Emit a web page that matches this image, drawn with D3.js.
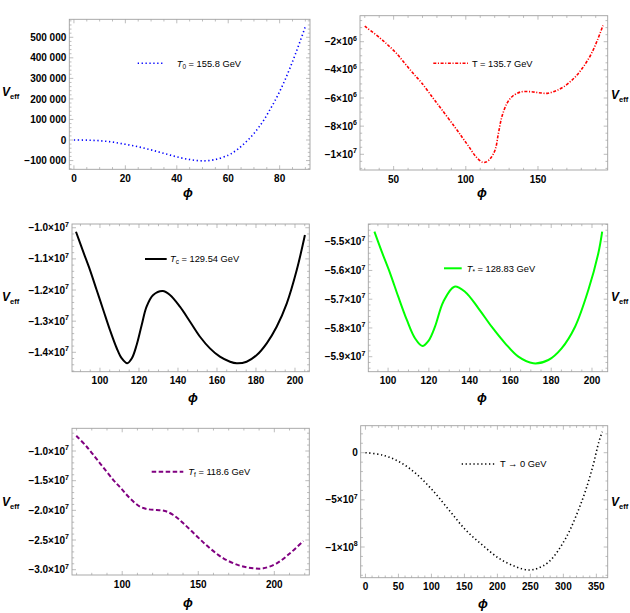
<!DOCTYPE html>
<html>
<head>
<meta charset="utf-8">
<script src="https://cdn.jsdelivr.net/npm/d3@7"></script>
<style>
  body { margin: 0; background: #fff; }
  text { font-family: "Liberation Sans", Arial, sans-serif; fill: #000; }
</style>
</head>
<body>
<svg width="630" height="613"></svg>
<script>
// ---- data: phi (GeV) and V_eff for each temperature ----
const t0Phi = [0, 5, 10, 15, 20, 25, 30, 35, 40, 45, 50, 55, 60, 62, 64, 66, 68, 70, 72, 74, 76, 78, 80, 82, 84, 86, 88, 90];
const t0V = [0, -700, -3500, -10000, -21000, -33000, -48000, -65000, -82000, -95000, -101500, -95000, -74000, -60000, -42000, -20000, 4000, 32000, 64000, 100000, 143000, 187000, 236000, 290000, 350000, 414000, 482000, 552000];

const tPhi = [30, 40.3, 46, 51.9, 57.7, 63.5, 69.3, 77.4, 83.2, 92.5, 97.2, 101.8, 107, 111.5, 114, 117, 120.3, 122.6, 125, 128.5, 132, 137.7, 144.7, 150.5, 156.3, 162.1, 167.9, 174.9, 180.7, 186.5, 191.2, 195];
const tV = [-0.9e6, -1.716e6, -2.234e6, -2.824e6, -3.535e6, -4.245e6, -4.913e6, -6.021e6, -6.803e6, -8.082e6, -8.75e6, -9.41e6, -10.17e6, -10.56e6, -10.55e6, -10.3e6, -9.69e6, -8.51e6, -7.33e6, -6.38e6, -5.91e6, -5.58e6, -5.55e6, -5.62e6, -5.67e6, -5.5e6, -5.2e6, -4.6e6, -3.89e6, -2.945e6, -1.88e6, -0.85e6];

const tcPhi = [87.7, 91.4, 94.9, 98.3, 101.7, 105.1, 108.6, 111.1, 114, 116.3, 118.8, 121.4, 123.9, 127.3, 132.2, 135.9, 141, 146.2, 151.3, 156.4, 161.5, 166.7, 170.1, 175.2, 180.4, 185.5, 190.6, 195.8, 200.9, 205.1];
const tcV = [-1.0128e7, -1.077e7, -1.136e7, -1.2e7, -1.264e7, -1.328e7, -1.387e7, -1.419e7, -1.4353e7, -1.42e7, -1.3766e7, -1.3124e7, -1.2536e7, -1.216e7, -1.2032e7, -1.216e7, -1.2536e7, -1.3017e7, -1.35e7, -1.3873e7, -1.4141e7, -1.4302e7, -1.4353e7, -1.4302e7, -1.4087e7, -1.3711e7, -1.3178e7, -1.2427e7, -1.1358e7, -1.0234e7];

const tsPhi = [93.3, 96.9, 101, 105, 109.2, 113.2, 116.8, 119.8, 123, 127.1, 132.5, 137.7, 144.3, 150.8, 157.4, 163.9, 171.2, 178.6, 185.1, 191.7, 198.2, 203.1, 205];
const tsV = [-5.4652e7, -5.5348e7, -5.6099e7, -5.6913e7, -5.7723e7, -5.836e7, -5.8628e7, -5.845e7, -5.7957e7, -5.7087e7, -5.6565e7, -5.6739e7, -5.7317e7, -5.7957e7, -5.8534e7, -5.9e7, -5.923e7, -5.9115e7, -5.8708e7, -5.7957e7, -5.668e7, -5.5403e7, -5.4652e7];

const tfPhi = [69.8, 76.7, 85.4, 94.2, 99.2, 105.1, 111.7, 117.2, 122.7, 128.1, 133.6, 140.2, 149.4, 157.7, 166.5, 177.5, 186.2, 192.8, 201.6, 210.3, 219.1];
const tfV = [-7.42e6, -9.28e6, -1.207e7, -1.489e7, -1.628e7, -1.797e7, -1.938e7, -1.982e7, -1.994e7, -2.011e7, -2.078e7, -2.218e7, -2.444e7, -2.64e7, -2.808e7, -2.933e7, -2.977e7, -2.977e7, -2.892e7, -2.724e7, -2.517e7];

const zPhi = [0, 25.6, 50.9, 76.2, 101.4, 126.7, 152, 177.2, 202.4, 227.7, 247.9, 261, 278.2, 303.5, 328.6, 343.8, 353.9, 359];
const zV = [0, -2.44e6, -9.5e6, -2.19e7, -3.96e7, -6.08e7, -8.2e7, -9.79e7, -1.12e8, -1.209e8, -1.244e8, -1.226e8, -1.156e8, -9.08e7, -5.02e7, -1.66e7, 1.17e7, 2.23e7];

// ---- tick values and labels ----
const t0XTicks = [0, 20, 40, 60, 80];
const t0YTicks = [-100000, 0, 100000, 200000, 300000, 400000, 500000];
const t0YLabels = ["−100 000", "0", "100 000", "200 000", "300 000", "400 000", "500 000"];
const tXTicks = [50, 100, 150];
const tYTicks = [-1e7, -8e6, -6e6, -4e6, -2e6];
const tYLabels = ["−1×10^7", "−8×10^6", "−6×10^6", "−4×10^6", "−2×10^6"];
const tcXTicks = [100, 120, 140, 160, 180, 200];
const tcYTicks = [-1.4e7, -1.3e7, -1.2e7, -1.1e7, -1.0e7];
const tcYLabels = ["−1.4×10^7", "−1.3×10^7", "−1.2×10^7", "−1.1×10^7", "−1.0×10^7"];
const tsXTicks = [100, 120, 140, 160, 180, 200];
const tsYTicks = [-5.9e7, -5.8e7, -5.7e7, -5.6e7, -5.5e7];
const tsYLabels = ["−5.9×10^7", "−5.8×10^7", "−5.7×10^7", "−5.6×10^7", "−5.5×10^7"];
const tfXTicks = [100, 150, 200];
const tfYTicks = [-3e7, -2.5e7, -2e7, -1.5e7, -1e7];
const tfYLabels = ["−3.0×10^7", "−2.5×10^7", "−2.0×10^7", "−1.5×10^7", "−1.0×10^7"];
const zXTicks = [0, 50, 100, 150, 200, 250, 300, 350];
const zYTicks = [-1e8, -5e7, 0];
const zYLabels = ["−1×10^8", "−5×10^7", "0"];

// ---- layout ----
const panels = [
  { phi: t0Phi, v: t0V, box: [69.3, 19.3, 310, 169.3], xDom: [-1.8, 91.8], yDom: [-142600, 587600],
    xTicks: t0XTicks, xMinor: 5, yTicks: t0YTicks, yLabels: t0YLabels, yMinor: 20000,
    color: "#0000ff", dash: "1.3,2.6", width: 1.6, veff: [2, 96], phiAt: [188, 197],
    leg: [137.7, 163.3, 63.3, 176.7], legText: [{t: "T", i: 1}, {t: "0", sub: 1}, {t: " = 155.8 GeV"}] },
  { phi: tPhi, v: tV, box: [360, 15.7, 607.7, 170], xDom: [26.7, 198.3], yDom: [-1.1115e7, -1.53e5],
    xTicks: tXTicks, xMinor: 10, yTicks: tYTicks, yLabels: tYLabels, yMinor: 5e5,
    color: "#ff0000", dash: "3,1.6,1.1,1.6", width: 1.6, veff: [611, 99], phiAt: [482, 197],
    leg: [433.3, 468, 63.3, 472], legText: [{t: "T = 135.7 GeV"}] },
  { phi: tcPhi, v: tcV, box: [72, 224, 309.3, 371.7], xDom: [85.66, 207.34], yDom: [-1.4623e7, -9.88e6],
    xTicks: tcXTicks, xMinor: 5, yTicks: tcYTicks, yLabels: tcYLabels, yMinor: 2e5,
    color: "#000000", dash: null, width: 2, veff: [2, 301], phiAt: [193, 402],
    leg: [145, 166.7, 259, 170], legText: [{t: "T", i: 1}, {t: "c", sub: 1}, {t: " = 129.54 GeV"}] },
  { phi: tsPhi, v: tsV, box: [368.3, 224, 607.7, 371.7], xDom: [90.3, 207.7], yDom: [-5.9522e7, -5.4384e7],
    xTicks: tsXTicks, xMinor: 5, yTicks: tsYTicks, yLabels: tsYLabels, yMinor: 2e5,
    color: "#00ff00", dash: null, width: 2, veff: [611, 301], phiAt: [482, 402],
    leg: [444, 461.7, 268.3, 466.7], legText: [{t: "T", i: 1}, {t: "*", sub: 1}, {t: " = 128.83 GeV"}] },
  { phi: tfPhi, v: tfV, box: [72, 428.3, 309.3, 575], xDom: [67, 223], yDom: [-3.0893e7, -6.175e6],
    xTicks: tfXTicks, xMinor: 10, yTicks: tfYTicks, yLabels: tfYLabels, yMinor: 1e6,
    color: "#800080", dash: "4.5,2.5", width: 2, veff: [2, 506], phiAt: [188, 607],
    leg: [151.7, 183.3, 471.7, 188.3], legText: [{t: "T", i: 1}, {t: "f", sub: 1}, {t: " = 118.6 GeV"}] },
  { phi: zPhi, v: zV, box: [360.7, 425.7, 607.7, 577.7], xDom: [-7.2, 367.2], yDom: [-1.3255e8, 2.863e7],
    xTicks: zXTicks, xMinor: 10, yTicks: zYTicks, yLabels: zYLabels, yMinor: 1e7,
    color: "#000000", dash: "1.3,2.6", width: 1.6, veff: [611, 506], phiAt: [483, 608],
    leg: [461.7, 495, 464, 500], legText: [{t: "T → 0 GeV"}] }
];

const svg = d3.select("svg");
const frameColor = "#a0a0a0";

function minorValues(dom, step) {
  const a = Math.ceil(dom[0] / step), b = Math.floor(dom[1] / step);
  return d3.range(a, b + 1).map(i => i * step);
}

function powLabel(sel, label) {
  const parts = label.split("^");
  sel.append("tspan").text(parts[0]);
  if (parts.length > 1) sel.append("tspan").attr("font-size", 7).attr("dy", -4.5).text(parts[1]);
}

panels.forEach((p, k) => {
  const [x0, y0, x1, y1] = p.box;
  const x = d3.scaleLinear().domain(p.xDom).range([x0, x1]);
  const y = d3.scaleLinear().domain(p.yDom).range([y1, y0]);
  const g = svg.append("g");

  // minor + major ticks on all four sides
  const tickG = g.append("g").attr("stroke", frameColor).attr("stroke-width", 0.7);
  const xMin = minorValues(p.xDom, p.xMinor);
  const yMin = minorValues(p.yDom, p.yMinor);
  const isMajor = (arr, v) => arr.some(t => Math.abs(t - v) < 1e-6 * Math.max(1, Math.abs(t)));
  xMin.forEach(v => {
    const len = isMajor(p.xTicks, v) ? 4 : 2.2;
    tickG.append("line").attr("x1", x(v)).attr("x2", x(v)).attr("y1", y1).attr("y2", y1 - len);
    tickG.append("line").attr("x1", x(v)).attr("x2", x(v)).attr("y1", y0).attr("y2", y0 + len);
  });
  yMin.forEach(v => {
    const len = isMajor(p.yTicks, v) ? 4 : 2.2;
    tickG.append("line").attr("x1", x0).attr("x2", x0 + len).attr("y1", y(v)).attr("y2", y(v));
    tickG.append("line").attr("x1", x1).attr("x2", x1 - len).attr("y1", y(v)).attr("y2", y(v));
  });

  g.append("rect").attr("x", x0).attr("y", y0).attr("width", x1 - x0).attr("height", y1 - y0)
    .attr("fill", "none").attr("stroke", frameColor).attr("stroke-width", 0.9);

  // tick labels
  p.xTicks.forEach(v => {
    g.append("text").attr("x", x(v)).attr("y", y1 + 12.5).attr("text-anchor", "middle")
      .attr("font-size", 10).attr("font-weight", "bold").text(v);
  });
  p.yTicks.forEach((v, i) => {
    const t = g.append("text").attr("x", x0 - 3).attr("y", y(v) + 3.6).attr("text-anchor", "end")
      .attr("font-size", 10).attr("font-weight", "bold");
    powLabel(t, p.yLabels[i]);
  });

  // axis labels
  const vt = g.append("text").attr("x", p.veff[0]).attr("y", p.veff[1]).attr("font-weight", "bold");
  vt.append("tspan").attr("font-size", 12).attr("font-style", "italic").text("V");
  vt.append("tspan").attr("font-size", 7.5).attr("dy", 2.5).text("eff");
  g.append("text").attr("x", p.phiAt[0]).attr("y", p.phiAt[1]).attr("text-anchor", "middle")
    .attr("font-size", 13).attr("font-weight", "bold").attr("font-style", "italic").text("ϕ");

  // curve
  const clipId = "clip" + k;
  g.append("clipPath").attr("id", clipId).append("rect")
    .attr("x", x0).attr("y", y0).attr("width", x1 - x0).attr("height", y1 - y0);
  const line = d3.line().x(d => x(d[0])).y(d => y(d[1])).curve(d3.curveCatmullRom.alpha(0.5));
  g.append("path").datum(d3.zip(p.phi, p.v)).attr("clip-path", "url(#" + clipId + ")")
    .attr("d", line).attr("fill", "none").attr("stroke", p.color)
    .attr("stroke-width", p.width).attr("stroke-dasharray", p.dash);

  // legend
  const [lx0, lx1, ly, tx] = p.leg;
  g.append("line").attr("x1", lx0).attr("x2", lx1).attr("y1", ly).attr("y2", ly)
    .attr("stroke", p.color).attr("stroke-width", p.width).attr("stroke-dasharray", p.dash);
  const lt = g.append("text").attr("x", tx).attr("y", ly + 3.3).attr("font-size", 9.3);
  let shift = 0;
  p.legText.forEach(s => {
    const sp = lt.append("tspan").text(s.t);
    if (s.i) sp.attr("font-style", "italic");
    if (s.sub) { sp.attr("font-size", 6.5).attr("dy", 2); shift = 2; }
    else if (shift) { sp.attr("dy", -shift); shift = 0; }
  });
});
</script>
</body>
</html>
